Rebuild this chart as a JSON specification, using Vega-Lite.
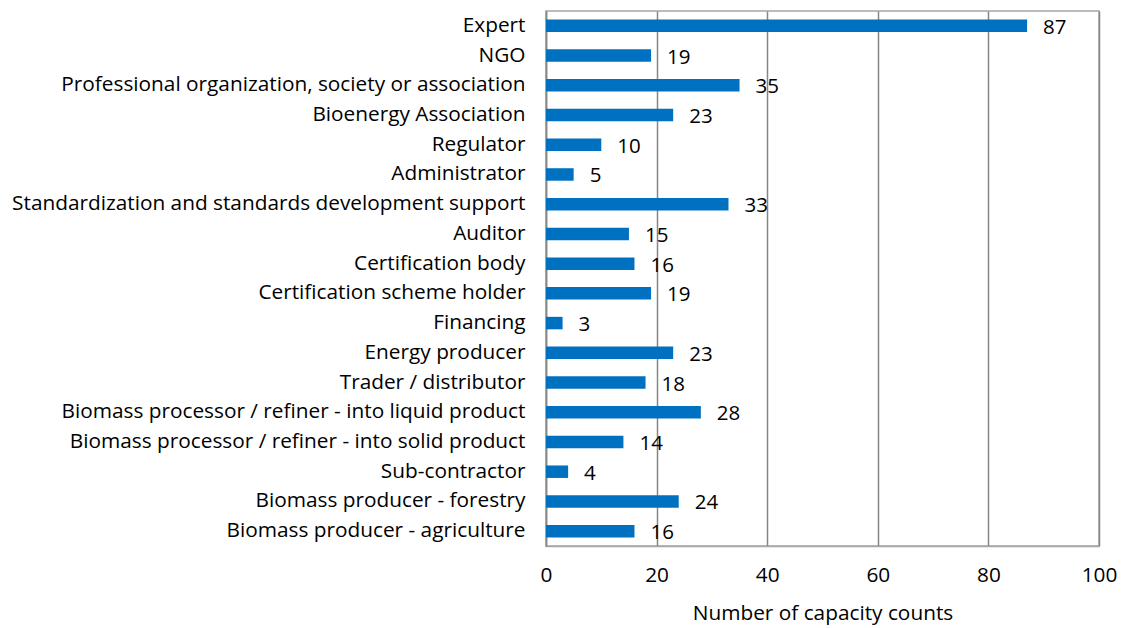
{
  "$schema": "https://vega.github.io/schema/vega-lite/v6.json",
  "width": 553,
  "height": 535,
  "autosize": "none",
  "padding": {"left": 546, "top": 11, "right": 23, "bottom": 82},
  "background": "white",
  "data": {"values": [
    {"role": "Expert", "count": 87},
    {"role": "NGO", "count": 19},
    {"role": "Professional organization, society or association", "count": 35},
    {"role": "Bioenergy Association", "count": 23},
    {"role": "Regulator", "count": 10},
    {"role": "Administrator", "count": 5},
    {"role": "Standardization and standards development support", "count": 33},
    {"role": "Auditor", "count": 15},
    {"role": "Certification body", "count": 16},
    {"role": "Certification scheme holder", "count": 19},
    {"role": "Financing", "count": 3},
    {"role": "Energy producer", "count": 23},
    {"role": "Trader / distributor", "count": 18},
    {"role": "Biomass processor / refiner - into liquid product", "count": 28},
    {"role": "Biomass processor / refiner - into solid product", "count": 14},
    {"role": "Sub-contractor", "count": 4},
    {"role": "Biomass producer - forestry", "count": 24},
    {"role": "Biomass producer - agriculture", "count": 16}
  ]},
  "config": {
    "font": "Open Sans",
    "view": {"stroke": "#a6a6a6", "strokeWidth": 1.5},
    "axis": {"labelFont": "Open Sans", "titleFont": "Open Sans", "labelColor": "black", "titleColor": "black"}
  },
  "encoding": {
    "y": {
      "field": "role", "type": "nominal", "sort": null,
      "scale": {"paddingInner": 0.58, "paddingOuter": 0.29},
      "axis": {"title": null, "ticks": false, "labelPadding": 21, "labelFontSize": 20.8, "labelLimit": 600, "domainColor": "#888", "domainWidth": 1.5, "grid": false}
    },
    "x": {
      "field": "count", "type": "quantitative",
      "scale": {"domain": [0, 100], "nice": false},
      "axis": {"title": "Number of capacity counts", "titleFontSize": 20.8, "titleFontWeight": "normal", "titlePadding": 19, "labelFontSize": 20.8, "labelPadding": 19, "labelFlush": false, "ticks": false, "values": [0, 20, 40, 60, 80, 100], "grid": true, "gridColor": "#868686", "gridWidth": 1.5, "domainColor": "#a6a6a6", "domainWidth": 1.5}
    }
  },
  "layer": [
    {"mark": {"type": "bar", "color": "#0070C0"}},
    {"mark": {"type": "text", "align": "left", "baseline": "middle", "dx": 16, "dy": 2, "fontSize": 20.5, "color": "black"}, "encoding": {"text": {"field": "count", "type": "quantitative"}}}
  ]
}
